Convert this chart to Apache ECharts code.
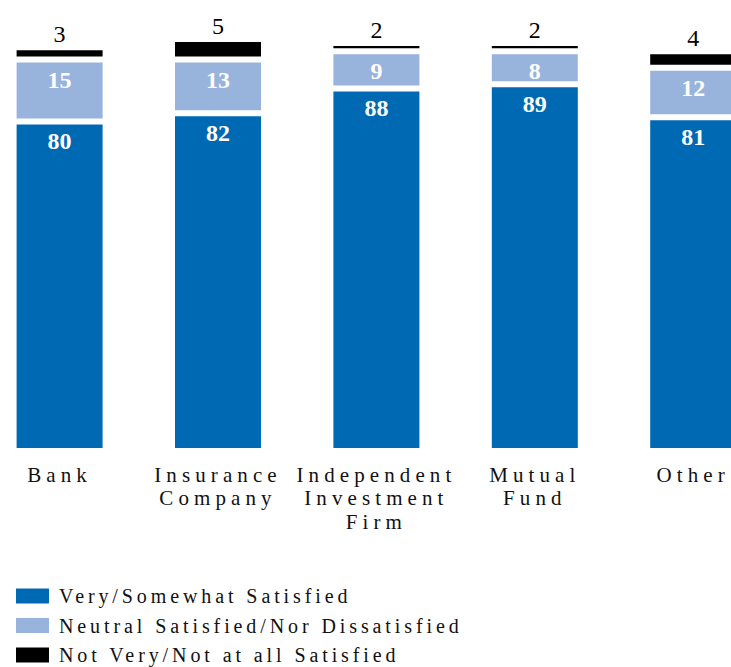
<!DOCTYPE html>
<html>
<head>
<meta charset="utf-8">
<script src="https://cdn.jsdelivr.net/npm/echarts@6/dist/echarts.min.js"></script>
<style>
  html, body { margin: 0; padding: 0; background: #fff; }
  #chart { width: 731px; height: 667px; }
  /* wide tracking for the category and legend captions */
  #chart text[style*="21px"] { letter-spacing: 5.1px; }
  #chart text[style*="20px"] { letter-spacing: 3.9px; }
</style>
</head>
<body>
<div id="chart"></div>
<script>
const categories = ['Bank', 'Insurance\nCompany', 'Independent\nInvestment\nFirm', 'Mutual\nFund', 'Other'];
const verySatisfied = [80, 82, 88, 89, 81];
const neutralSatisfied = [15, 13, 9, 8, 12];
const notSatisfied = [3, 5, 2, 2, 4];

const seriesNames = ['Very/Somewhat Satisfied', 'Neutral Satisfied/Nor Dissatisfied', 'Not Very/Not at all Satisfied'];
const FONT = 'Liberation Serif';

const chart = echarts.init(document.getElementById('chart'), null, { renderer: 'svg' });

const barBase = {
  type: 'bar',
  stack: 'total',
  barWidth: 92,
  itemStyle: { borderColor: '#ffffff', borderWidth: 3 }
};

chart.setOption({
  animation: false,
  grid: {
    left: -19.6, right: -41.4, top: 39, bottom: 216,
    containLabel: false, outerBoundsMode: 'none'
  },
  xAxis: {
    type: 'category',
    data: categories,
    axisLine: { show: false },
    axisTick: { show: false },
    axisLabel: {
      interval: 0,
      margin: 12,
      fontFamily: FONT,
      fontSize: 21,
      lineHeight: 23.5,
      color: '#111111'
    }
  },
  yAxis: {
    type: 'value',
    min: 0,
    max: 100,
    show: false,
    splitLine: { show: false }
  },
  legend: {
    orient: 'vertical',
    left: 14,
    top: 586,
    height: 120,
    padding: 0,
    icon: 'rect',
    itemWidth: 35,
    itemHeight: 17,
    itemGap: 9.5,
    selectedMode: false,
    data: seriesNames,
    textStyle: { fontFamily: FONT, fontSize: 20, color: '#111111', padding: [0, 0, 0, 4] }
  },
  series: [
    Object.assign({}, barBase, {
      name: seriesNames[0],
      data: verySatisfied,
      itemStyle: Object.assign({}, barBase.itemStyle, { color: '#0069b4' }),
      label: {
        show: true, position: 'insideTop', distance: 8,
        color: '#ffffff', fontFamily: FONT, fontSize: 24, fontWeight: 'bold'
      }
    }),
    Object.assign({}, barBase, {
      name: seriesNames[1],
      data: neutralSatisfied,
      itemStyle: Object.assign({}, barBase.itemStyle, { color: '#98b3dc' }),
      label: {
        show: true, position: 'insideTop', distance: 8,
        color: '#ffffff', fontFamily: FONT, fontSize: 24, fontWeight: 'bold'
      }
    }),
    Object.assign({}, barBase, {
      name: seriesNames[2],
      data: notSatisfied,
      itemStyle: Object.assign({}, barBase.itemStyle, { color: '#000000' }),
      label: {
        show: true, position: 'top', distance: 1,
        color: '#000000', fontFamily: FONT, fontSize: 24
      }
    })
  ]
});
</script>
</body>
</html>
